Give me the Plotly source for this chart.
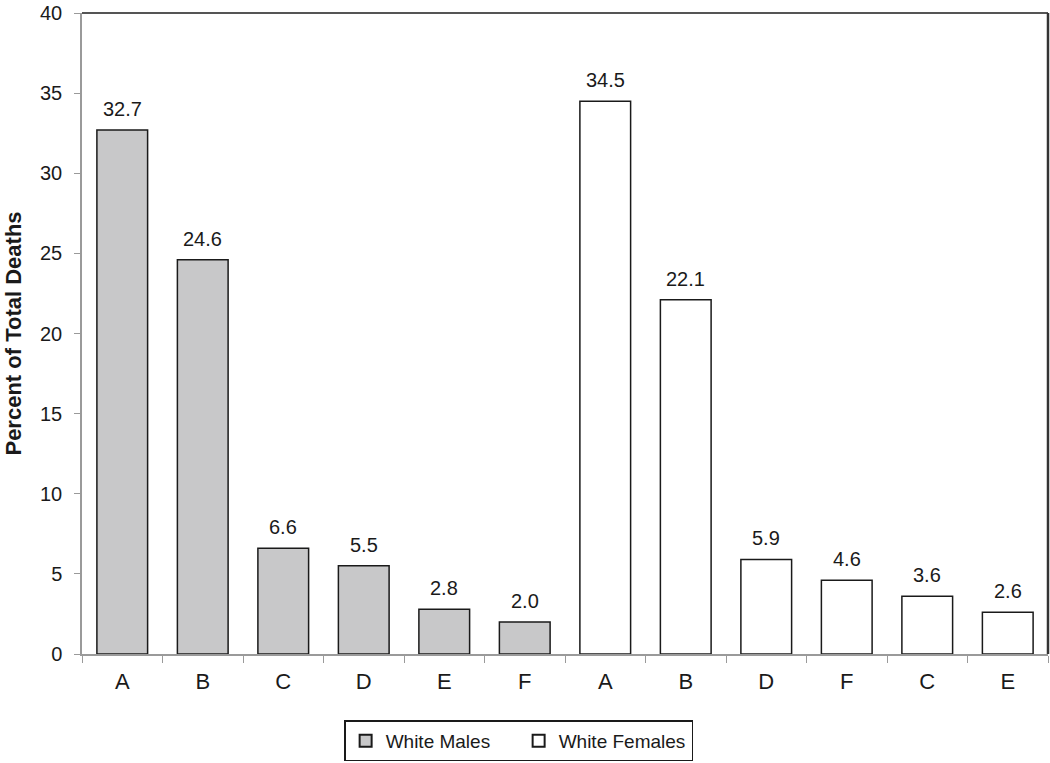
import plotly.graph_objects as go

male_cats = ["A", "B", "C", "D", "E", "F"]
male_vals = [32.7, 24.6, 6.6, 5.5, 2.8, 2.0]
female_cats = ["A", "B", "D", "F", "C", "E"]
female_vals = [34.5, 22.1, 5.9, 4.6, 3.6, 2.6]
y_ticks = [0, 5, 10, 15, 20, 25, 30, 35, 40]

FONT = "Liberation Sans, Arial, sans-serif"
n_m = len(male_cats)
x_m = list(range(n_m))
x_f = list(range(n_m, n_m + len(female_cats)))
all_x = x_m + x_f
all_labels = male_cats + female_cats
all_vals = male_vals + female_vals

fig = go.Figure()
fig.add_trace(go.Bar(x=x_m, y=male_vals, name="White Males", width=0.63,
                     marker=dict(color="#c8c8c9", line=dict(color="#1a1a1a", width=1.5))))
fig.add_trace(go.Bar(x=x_f, y=female_vals, name="White Females", width=0.63,
                     marker=dict(color="#ffffff", line=dict(color="#1a1a1a", width=1.5))))

for x, v in zip(all_x, all_vals):
    fig.add_annotation(x=x, y=v, text=f"{v:.1f}", showarrow=False, yanchor="bottom",
                       yshift=8, font=dict(size=20, color="#1a1a1a", family=FONT))

boundaries = [i - 0.5 for i in range(len(all_x) + 1)]

fig.update_layout(
    width=1050, height=763,
    margin=dict(l=82, r=2, t=13, b=106),
    paper_bgcolor="white", plot_bgcolor="white",
    barmode="overlay",
    font=dict(family=FONT, color="#1a1a1a"),
    showlegend=True,
    legend=dict(orientation="h", x=0.452, xanchor="center", y=-0.1675, yanchor="bottom",
                xref="paper", yref="paper",
                bordercolor="#1a1a1a", borderwidth=1.5, bgcolor="white",
                font=dict(size=19, family=FONT, color="#1a1a1a"),
                entrywidth=128, entrywidthmode="pixels",
                itemsizing="constant", traceorder="normal", tracegroupgap=0),
    xaxis=dict(range=[-0.5, len(all_x) - 0.5], tickmode="array", tickvals=boundaries,
               showticklabels=False, ticks="outside", ticklen=7, tickcolor="#9a9a9a",
               showline=True, linecolor="#9a9a9a", linewidth=1.5, showgrid=False,
               zeroline=False, automargin=False),
    xaxis2=dict(overlaying="x", matches="x", side="bottom", tickmode="array", tickvals=all_x,
                ticktext=all_labels, ticks="", showline=False, showgrid=False, zeroline=False,
                tickfont=dict(size=22, family=FONT, color="#1a1a1a"), ticklabelstandoff=12,
                automargin=False),
    yaxis=dict(range=[0, 40], tickmode="array", tickvals=y_ticks, ticks="outside", ticklen=6,
               tickcolor="#9a9a9a", showline=True, linecolor="#9a9a9a", linewidth=1.5,
               showgrid=False, zeroline=False, automargin=False, ticklabelstandoff=8,
               ticklabeloverflow="allow",
               tickfont=dict(size=20, family=FONT, color="#1a1a1a"),
               title=dict(text="<b>Percent of Total Deaths</b>", standoff=12,
                          font=dict(size=22, family=FONT, color="#1a1a1a"))),
)
fig.add_trace(go.Scatter(x=all_x, y=[0] * len(all_x), xaxis="x2", mode="markers",
                         marker=dict(opacity=0), showlegend=False, hoverinfo="skip"))

fig.add_shape(type="line", xref="paper", yref="paper", x0=0, x1=1, y0=1, y1=1,
              line=dict(color="#555555", width=2))
fig.add_shape(type="line", xref="paper", yref="paper", x0=1, x1=1, y0=0, y1=1,
              line=dict(color="#333333", width=2.5))

fig.write_html("out.html", config={"displayModeBar": False},
               post_script="document.body.style.margin='0';document.body.style.overflow='hidden';")
